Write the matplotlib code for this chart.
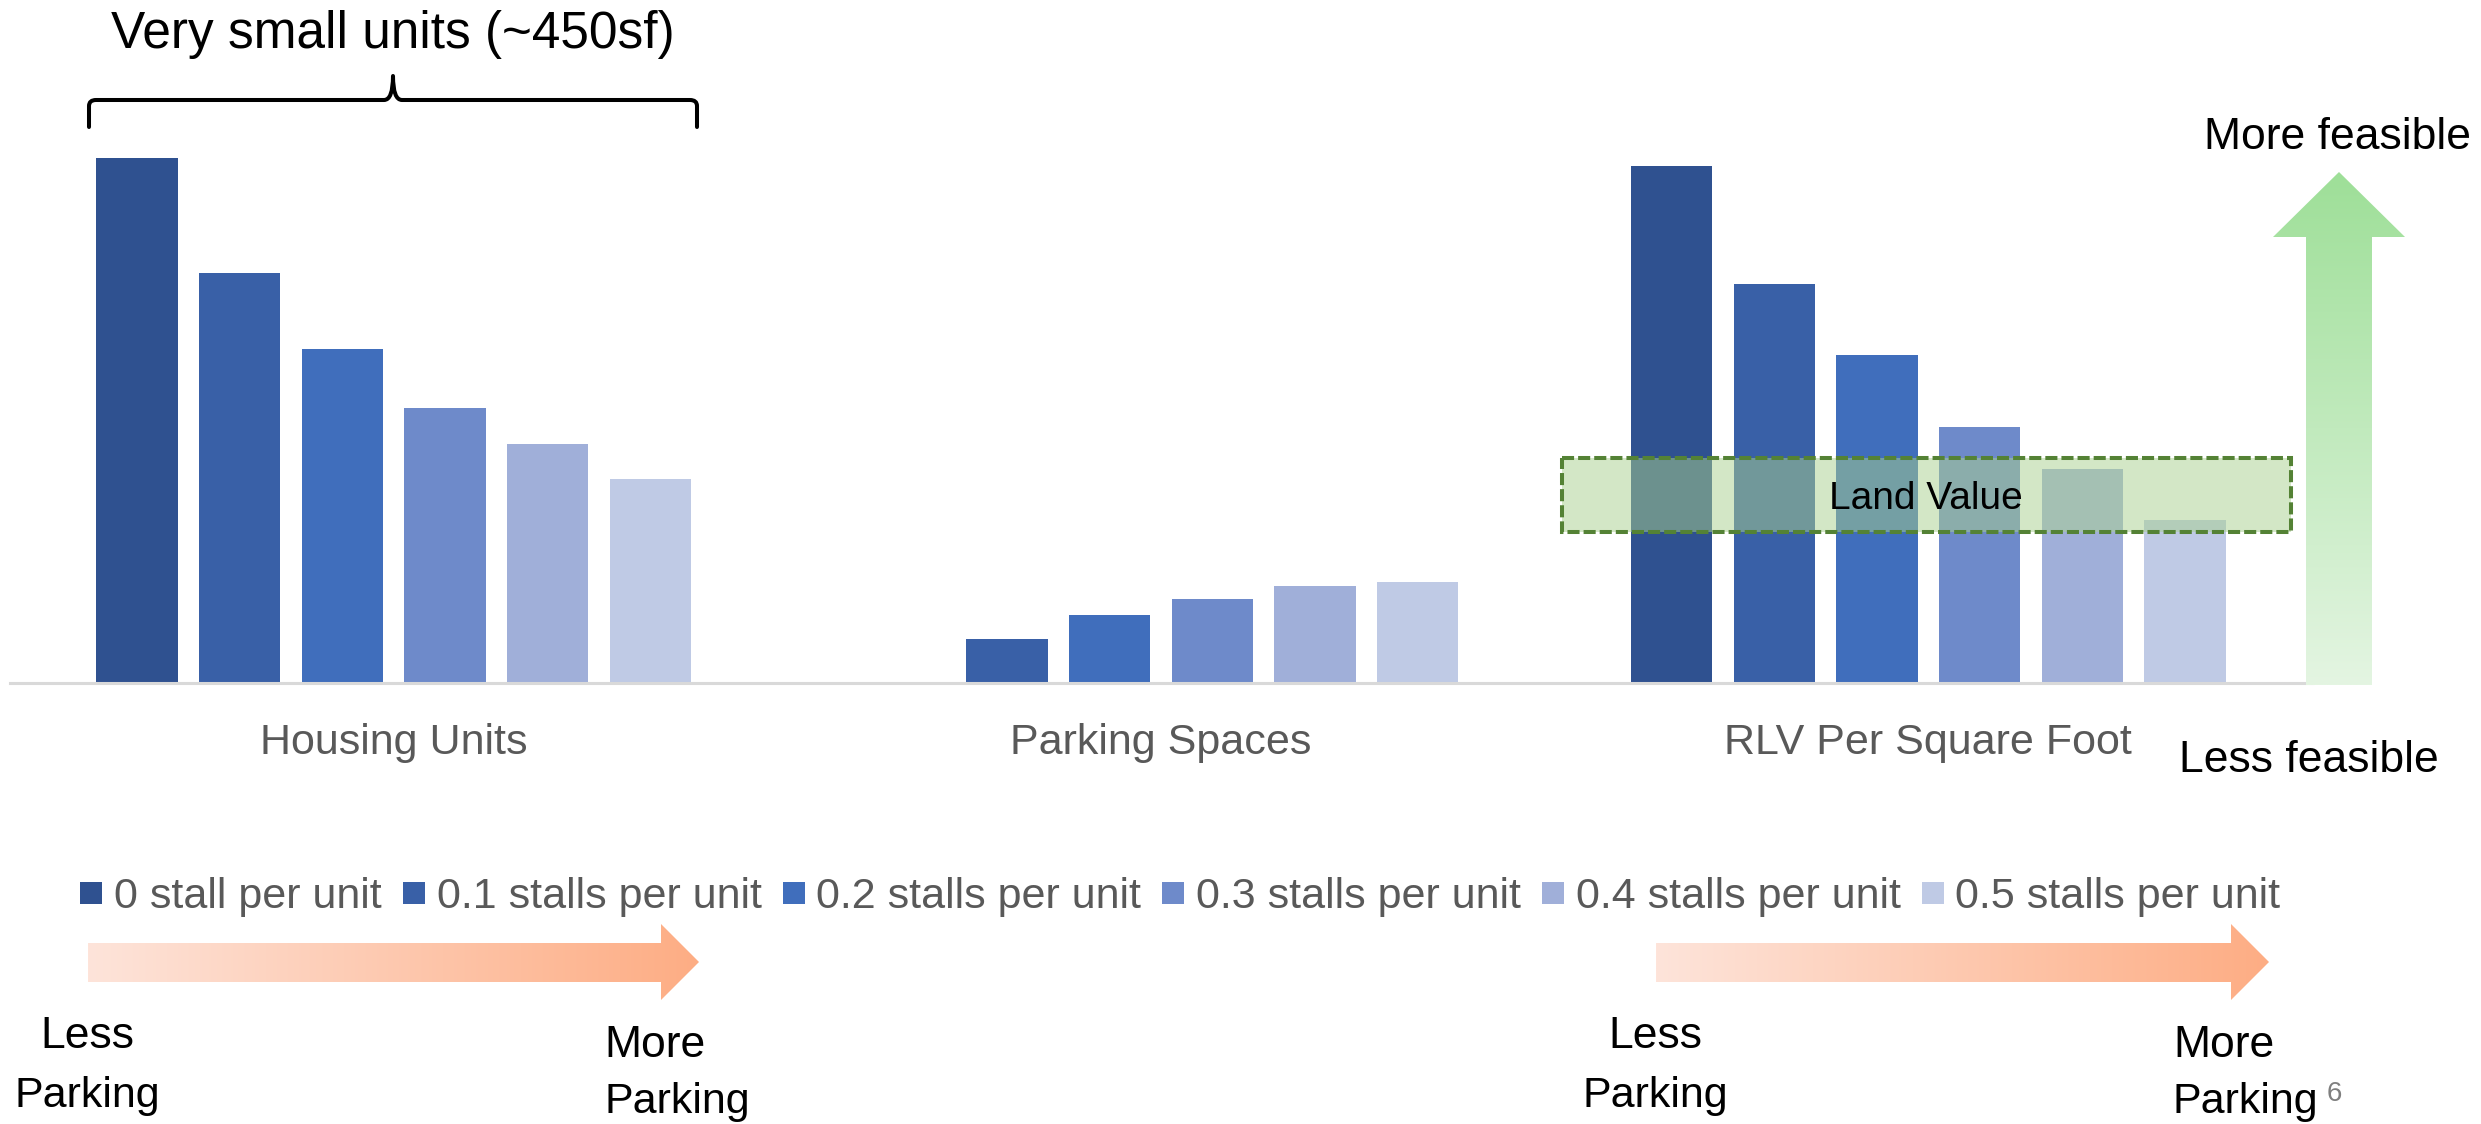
import numpy as np
import matplotlib
matplotlib.use('Agg')
import matplotlib.pyplot as plt
from matplotlib.path import Path
from matplotlib.patches import PathPatch, Polygon, Rectangle
from matplotlib.lines import Line2D
from matplotlib.colors import LinearSegmentedColormap

plt.rcParams['font.family'] = ['Liberation Sans', 'DejaVu Sans']

# ---------------- data ----------------
categories = ['Housing Units', 'Parking Spaces', 'RLV Per Square Foot']
series_labels = ['0 stall per unit', '0.1 stalls per unit', '0.2 stalls per unit',
                 '0.3 stalls per unit', '0.4 stalls per unit', '0.5 stalls per unit']
stall_00 = [332, 0, 327]
stall_01 = [259, 28, 252]
stall_02 = [211, 43, 207]
stall_03 = [174, 53, 162]
stall_04 = [151, 61, 135]
stall_05 = [129, 64, 103]
series_values = [stall_00, stall_01, stall_02, stall_03, stall_04, stall_05]
colors = ['#2F5190', '#3960A7', '#406EBC', '#6E8ACA', '#A0AFD9', '#BFCAE5']

# ---------------- figure ----------------
W, H = 2481, 1124
fig = plt.figure(figsize=(W / 100, H / 100), dpi=100)


def fx(x):
    return x / W


def fy(y):
    return 1 - y / H


ax = fig.add_axes([fx(10), fy(683), (2312 - 10) / W, 538 / H])
x = np.arange(len(categories))
pitch = 0.1338
bw = 0.1056
for i, (vals, c, lab) in enumerate(zip(series_values, colors, series_labels)):
    ax.bar(x + (i - 2.5) * pitch, vals, width=bw, color=c, label=lab, zorder=2)
ax.set_xlim(-0.5, 2.5)
ax.set_ylim(0, 340)
for s in ['left', 'right', 'top']:
    ax.spines[s].set_visible(False)
ax.spines['bottom'].set_color('#D9D9D9')
ax.spines['bottom'].set_linewidth(2.2)
ax.set_yticks([])
ax.set_xticks(x)
ax.set_xticklabels(categories, fontsize=31, color='#595959')
ax.tick_params(axis='x', length=0, pad=29)

# legend
handles = [Line2D([], [], marker='s', linestyle='', markersize=16.5,
                  markerfacecolor=c, markeredgewidth=0) for c in colors]
fig.legend(handles, series_labels, loc='center', bbox_to_anchor=(fx(1180), fy(897)),
           ncol=6, frameon=False, fontsize=31, handlelength=0.55, handletextpad=0.25,
           columnspacing=0.47, labelcolor='#595959', borderpad=0)

# ---------------- overlay annotations ----------------
ov = fig.add_axes([0, 0, 1, 1])
ov.set_xlim(0, W)
ov.set_ylim(H, 0)
ov.axis('off')


def grad_arrow(verts, c0, c1, vertical=False):
    poly = Polygon(verts, closed=True, facecolor='none', edgecolor='none')
    ov.add_patch(poly)
    xs = [v[0] for v in verts]
    ys = [v[1] for v in verts]
    cmap = LinearSegmentedColormap.from_list('g', [c0, c1])
    if vertical:
        g = np.linspace(0, 1, 256).reshape(-1, 1)
    else:
        g = np.linspace(0, 1, 256).reshape(1, -1)
    im = ov.imshow(g, extent=(min(xs), max(xs), max(ys), min(ys)), cmap=cmap,
                   aspect='auto', interpolation='bilinear', origin='upper', zorder=1)
    im.set_clip_path(poly)


grad_arrow([(88, 943), (661, 943), (661, 924), (699, 962), (661, 1000), (661, 982), (88, 982)],
           '#FEE4DA', '#FDAD84')
grad_arrow([(1656, 943), (2231, 943), (2231, 924), (2269, 962), (2231, 1000), (2231, 982), (1656, 982)],
           '#FEE4DA', '#FDAD84')
grad_arrow([(2306, 685), (2306, 237), (2273, 237), (2339, 172), (2405, 237), (2372, 237), (2372, 685)],
           '#9EDF98', '#E4F5E2', vertical=True)

ov.set_xlim(0, W)
ov.set_ylim(H, 0)

# Land value box
ov.add_patch(Rectangle((1562, 458), 729, 74, facecolor=(169 / 255, 209 / 255, 142 / 255, 0.5),
                       edgecolor='#548235', linewidth=2.9, linestyle=(0, (3, 1)), zorder=3))
ov.text(1926, 509, 'Land Value', fontsize=28, ha='center', va='baseline', color='black', zorder=4)

# brace
verts = [(89, 127), (89, 106), (89, 100), (96, 100), (384, 100), (393, 100), (393, 76),
         (393, 100), (402, 100), (690, 100), (697, 100), (697, 106), (697, 127)]
codes = [Path.MOVETO, Path.LINETO, Path.CURVE3, Path.CURVE3, Path.LINETO, Path.CURVE3, Path.CURVE3,
         Path.CURVE3, Path.CURVE3, Path.LINETO, Path.CURVE3, Path.CURVE3, Path.LINETO]
ov.add_patch(PathPatch(Path(verts, codes), facecolor='none', edgecolor='black', linewidth=2.9,
                       capstyle='round', joinstyle='round'))

ov.text(393, 48, 'Very small units (~450sf)', fontsize=37, ha='center', va='baseline')
ov.text(2338, 149, 'More feasible', fontsize=32, ha='center', va='baseline')
ov.text(2309, 772, 'Less feasible', fontsize=32, ha='center', va='baseline')

for cx in (87, 1655):
    ov.text(cx, 1048, 'Less', fontsize=32, ha='center', va='baseline')
    ov.text(cx, 1107, 'Parking', fontsize=31, ha='center', va='baseline')
for lx in (604, 2173):
    ov.text(lx, 1057, 'More', fontsize=32, ha='left', va='baseline')
    ov.text(lx, 1113, 'Parking', fontsize=31, ha='left', va='baseline')

ov.text(2334, 1101, '6', fontsize=20, color='#7F7F7F', ha='center', va='baseline')

fig.savefig('out.png', dpi=100)
